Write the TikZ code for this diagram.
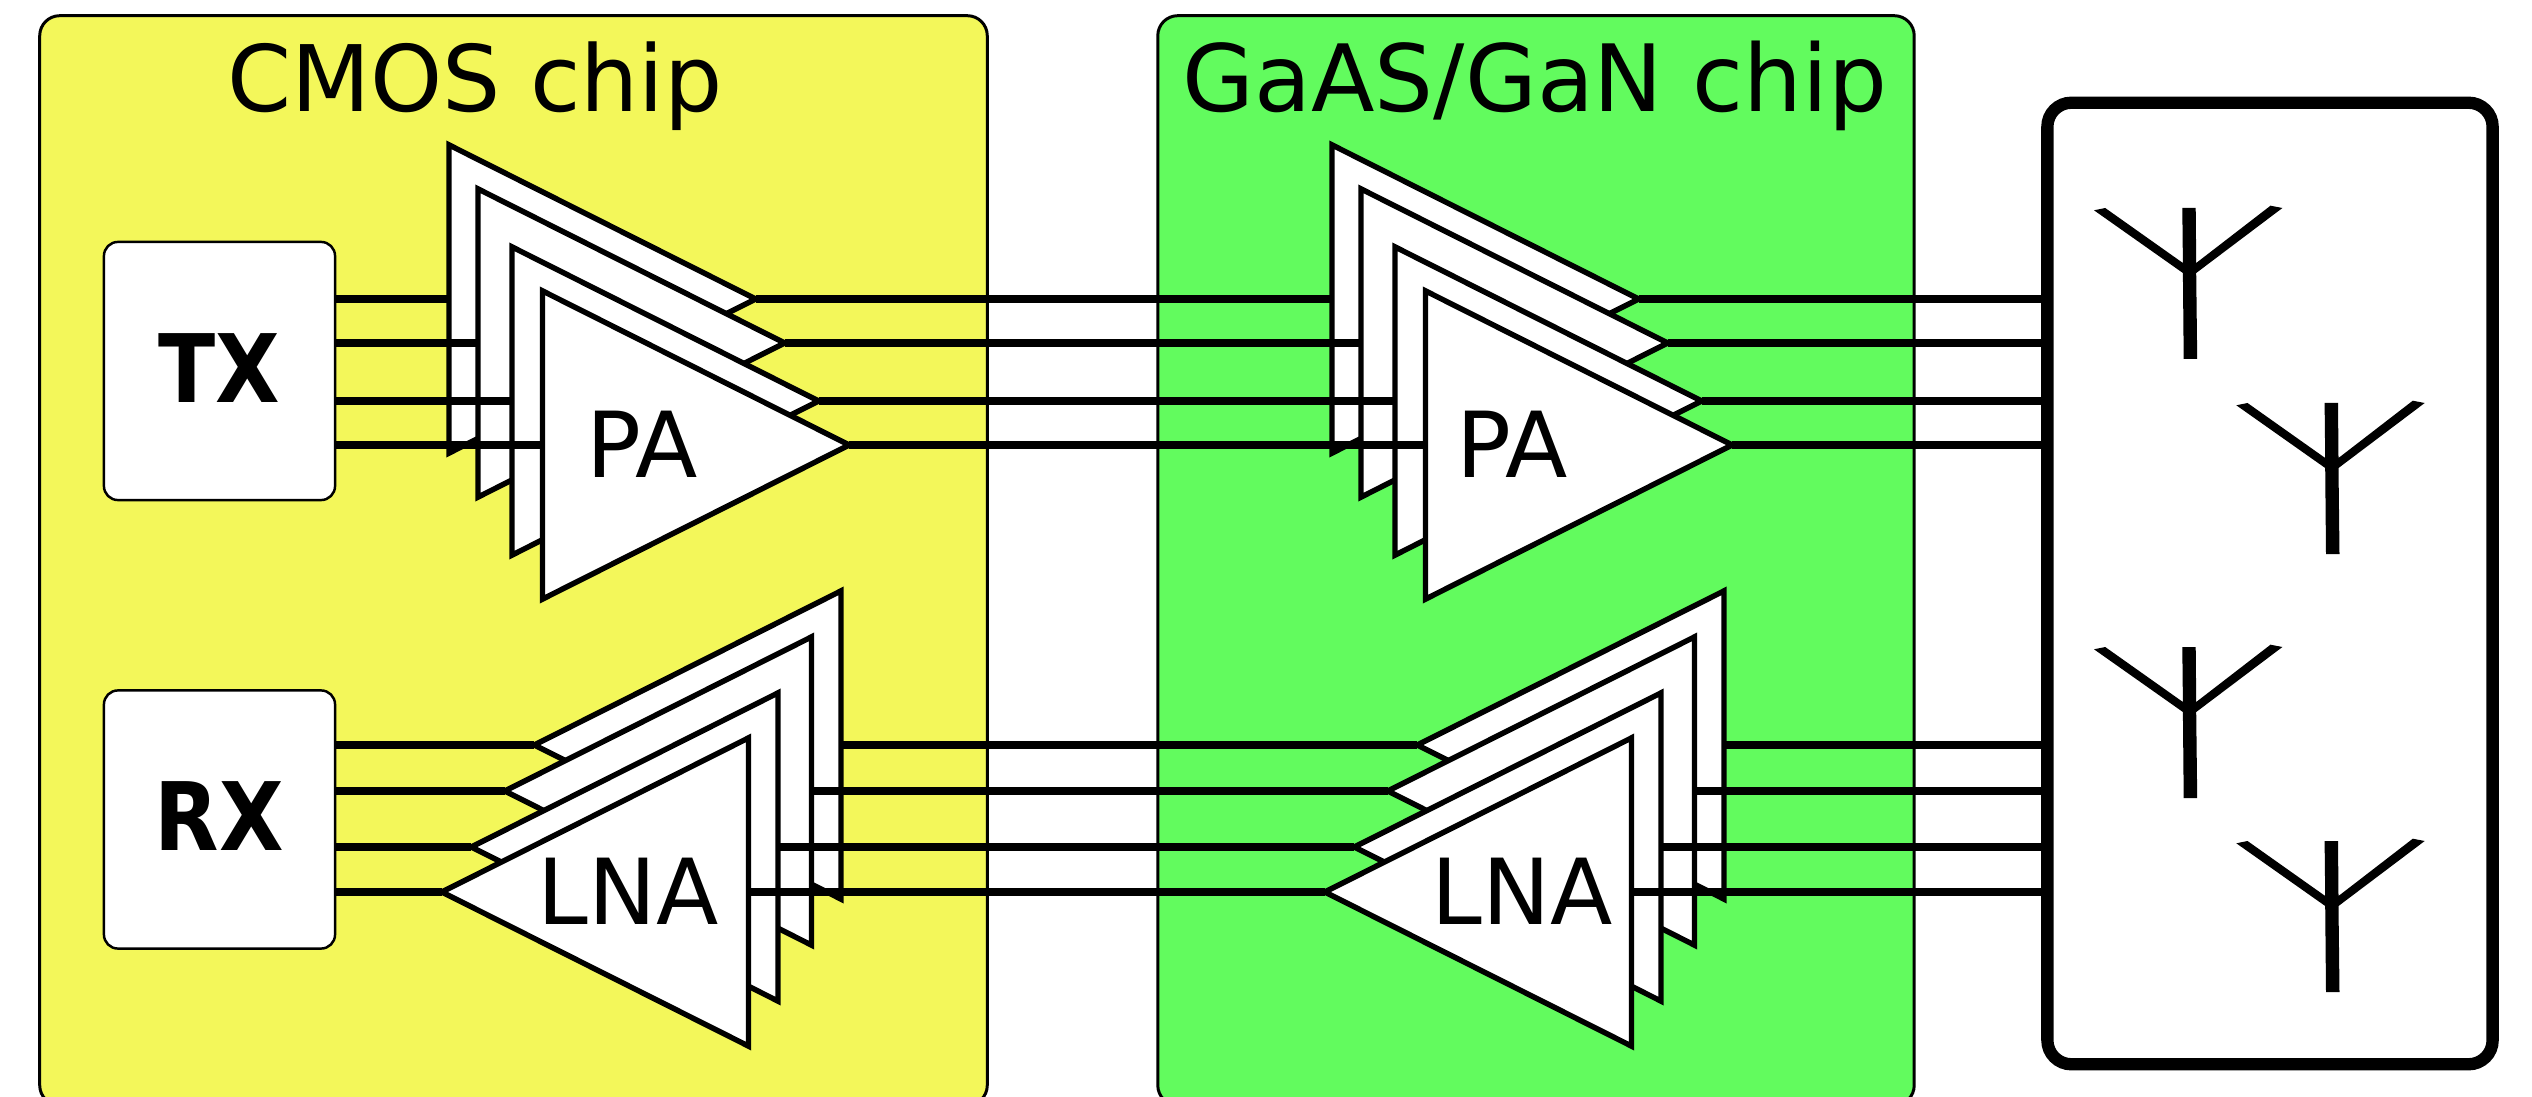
\documentclass[tikz,border=0pt]{standalone}
\usepackage{fontspec}
\setmainfont{DejaVu Sans}
\usetikzlibrary{shapes.geometric}
\definecolor{cmosyellow}{RGB}{243,247,90}
\definecolor{gangreen}{RGB}{98,251,94}
\tikzset{
  chipbox/.style={draw,rounded corners=2mm,line width=0.85pt,inner sep=0pt,outer sep=0pt,minimum height=108.9mm},
  ifbox/.style={draw,fill=white,rounded corners=1.4mm,line width=0.7pt,inner sep=0pt,outer sep=0pt,
    minimum width=23.1mm,minimum height=25.8mm,text depth=0.6mm,font=\fontsize{25.6}{30}\selectfont\bfseries},
  ampbox/.style={draw,fill=white,line width=1.55pt,shape=isosceles triangle,isosceles triangle stretches=true,
    minimum width=30.8mm,minimum height=30.65mm,inner sep=0pt,outer sep=0pt},
  pabox/.style={ampbox,anchor=lower side},
  lnabox/.style={ampbox,shape border rotate=180,anchor=lower side},
  wire/.style={line width=2.4pt},
  bigtext/.style={anchor=base,inner sep=0pt},
  amptext/.style={font=\fontsize{25.9}{30}\selectfont,anchor=base,inner sep=0pt},
  antenna/.pic={
    \fill (-6.4,0) -- (7,0) -- (7.5,55) -- (81.8,-2.3) -- (93.7,0) -- (7.5,65) -- (8.5,151)
      -- (-5,151) -- (-5.8,65) -- (-94.7,2.3) -- (-83.5,0) -- (-5.8,55) -- cycle;
  }
}
\begin{document}
\begin{tikzpicture}[x=0.01cm,y=-0.01cm]
  \useasboundingbox (0,0) rectangle (2532,1097);
  \clip (0,0) rectangle (2532,1097);
  \fill[white] (0,0) rectangle (2532,1097);
  \node[chipbox,fill=cmosyellow,minimum width=94.7mm] (cmos) at (513.5,560.5) {};
  \node[chipbox,fill=gangreen,minimum width=75.6mm] (gan) at (1536,560.5) {};
  \node[draw,rounded corners=2.4mm,line width=3.5pt,inner sep=0pt,outer sep=0pt,
    minimum width=44.5mm,minimum height=96.1mm] (ant) at (2270,583.5) {};
  \node[ifbox] (tx) at (219.5,371) {\scalebox{0.93}[1.05]{TX}};
  \node[ifbox] (rx) at (219.5,819.5) {\scalebox{0.93}[1.05]{RX}};
  \node[bigtext,font=\fontsize{26.1}{30}\selectfont] (cmoslabel) at (475,112) {CMOS chip};
  \node[bigtext,font=\fontsize{26.4}{30}\selectfont] (ganlabel) at (1535,112) {GaAS/GaN chip};
  \foreach \n/\xb/\yw in {1/449/299,2/478/343,3/512/401,4/542.5/445}{
    \node[pabox] (cpa\n) at (\xb,\yw) {};
    \draw[wire] (tx.east|-cpa\n.lower side) -- (cpa\n.lower side);
    \node[pabox] (gpa\n) at (\xb+883,\yw) {};
    \draw[wire] (cpa\n.apex) -- (gpa\n.lower side);
    \draw[wire] (gpa\n.apex) -- (ant.west|-gpa\n.apex);
  }
  \foreach \n/\xb/\yw in {1/841/745,2/811.5/791,3/778/847,4/748.5/892}{
    \node[lnabox] (clna\n) at (\xb,\yw) {};
    \draw[wire] (rx.east|-clna\n.apex) -- (clna\n.apex);
    \node[lnabox] (glna\n) at (\xb+883,\yw) {};
    \draw[wire] (clna\n.lower side) -- (glna\n.apex);
    \draw[wire] (glna\n.lower side) -- (ant.west|-glna\n.lower side);
  }
  \node[amptext] (cpatext) at (642,478) {PA};
  \node[amptext] (gpatext) at (1512,478) {PA};
  \node[amptext] (clnatext) at (628,924) {LNA};
  \node[amptext] (glnatext) at (1522,924) {LNA};
  \foreach \xa/\ya in {2188.7/208,2331/403,2188.7/647,2331/841}{
    \pic at (\xa,\ya) {antenna};
  }
\end{tikzpicture}
\end{document}
